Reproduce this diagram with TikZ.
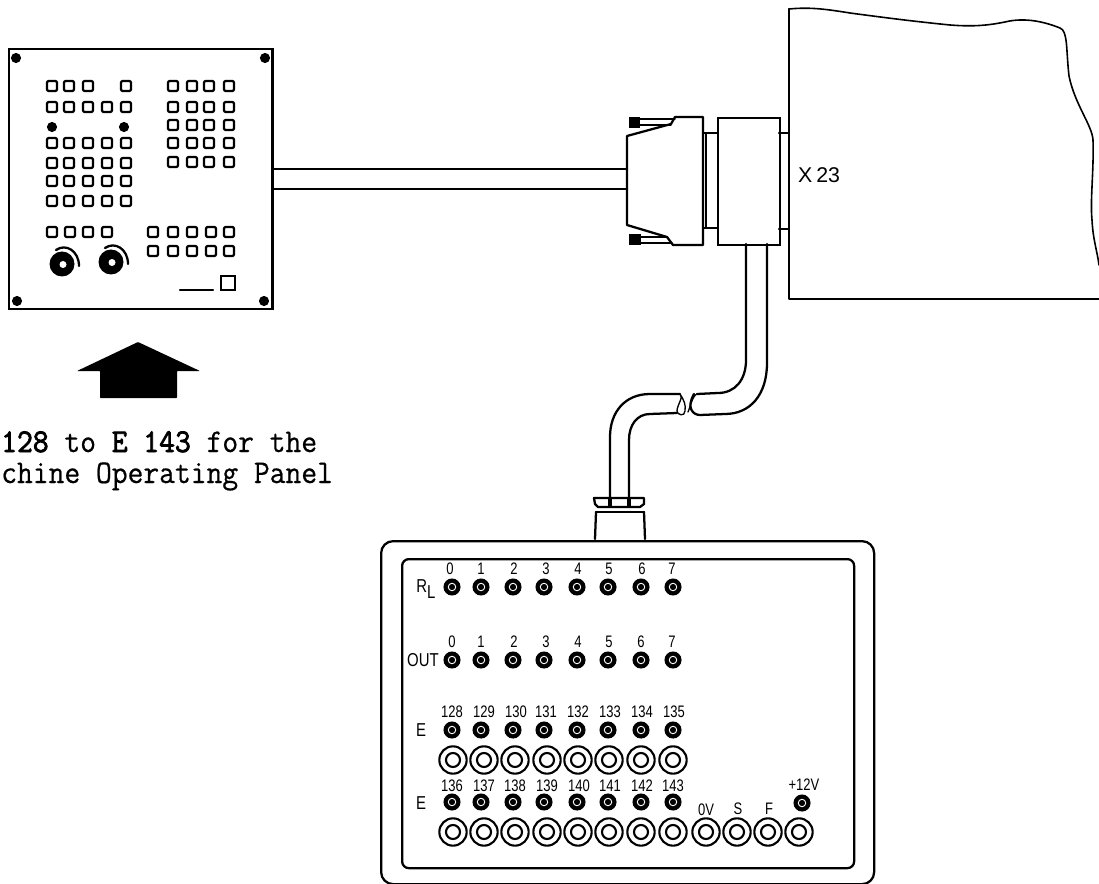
\documentclass[tikz,border=0pt]{standalone}
\usepackage{fontspec}
\setmainfont{Liberation Sans}
\newfontfamily\typefont[FakeBold=0.6]{Latin Modern Mono}
\newfontfamily\typebold[FakeBold=2.4]{Latin Modern Mono}
\tikzset{
  x=0.75pt,y=-0.75pt,
  ink/.style={draw=black,line width=1.7pt,line join=round,line cap=round},
  thinink/.style={draw=black,line width=1pt,line join=round,line cap=round},
  keycap/.style={draw=black,line width=1.7pt,rounded corners=1.5pt,minimum size=7.6pt,inner sep=0pt,fill=white},
  bigjack/.style={draw=black,line width=1.6pt,circle,minimum size=20.5pt,inner sep=0pt,fill=white},
  jackhole/.style={draw=black,line width=1.6pt,circle,minimum size=10.5pt,inner sep=0pt,fill=white},
  smalljack/.style={draw=black,line width=0.8pt,circle,minimum size=12pt,inner sep=0pt,fill=black},
  smallring/.style={draw=white,line width=0.7pt,circle,minimum size=5.6pt,inner sep=0pt,fill=black},
  lab/.style={font=\fontsize{12.5}{14}\selectfont,inner sep=0pt,xscale=0.78,transform shape},
  side/.style={font=\fontsize{14}{16}\selectfont,inner sep=0pt,xscale=0.8,transform shape},
  para/.style={font=\typefont\fontsize{23}{24}\selectfont,inner sep=0pt,anchor=base west,yscale=1.08,transform shape},
  blackdot/.style={circle,fill=black,inner sep=0pt,minimum size=7.6pt},
}
\newcommand{\keyrow}[2]{\foreach \kx in {#2}{\node[keycap] at (\kx,#1) {};}}
\begin{document}
\begin{tikzpicture}
\useasboundingbox (0,0) rectangle (1099,884);
% ---- operating panel
\node[draw=black,line width=1.7pt,minimum width=197.5pt,minimum height=195pt,inner sep=0pt,anchor=north west] (panel) at (8,48) {};
\foreach \px/\py in {16/58,265/58,17/301,264/301}{\node[blackdot] at (\px,\py) {};}
\keyrow{86}{52,69,88,126}
\keyrow{107}{52,69,88,107,126}
\keyrow{143}{52,69,88,107,126}
\keyrow{163}{52,69,88,107,126}
\keyrow{181}{52,69,88,107,126}
\keyrow{201}{52,69,88,107,126}
\node[blackdot] at (52,127) {};
\node[blackdot] at (124,127) {};
\keyrow{86}{173,192,209,229}
\keyrow{107}{173,192,209,229}
\keyrow{125}{173,192,209,229}
\keyrow{143}{173,192,209,229}
\keyrow{162}{173,192,209,229}
\keyrow{232}{52,70,88,107}
\keyrow{232}{153,173,192,211,229}
\keyrow{251}{153,173,192,211,229}
\node[draw=black,line width=1.7pt,minimum size=10.5pt,inner sep=0pt] (bigkey) at (228,283) {};
\draw[ink] (180,290) -- (213,290);
% knobs
\foreach \kx/\ky in {62/264,111/262}{
  \fill[black] (\kx,\ky) circle[radius=12.5];
  \fill[white] (\kx+1,\ky+0.5) circle[radius=3.5];
  \draw[ink] (\kx-6,\ky-14) .. controls (\kx+4,\ky-21) and (\kx+17,\ky-13) .. (\kx+17,\ky+2);
}
% ---- big arrow
\fill[black,rounded corners=0.5pt] (138,342) -- (200,371) -- (177,371) -- (177,398) -- (100,398) -- (100,371) -- (77,371) -- cycle;
\node[para] (t1) at (1,452) {{\typebold 128} to {\typebold E} {\typebold 143} for the};
\node[para] (t2) at (1,483) {chine Operating Panel};
% ---- connector and cable
\coordinate (pr1) at (272,169); \coordinate (pr2) at (272,189);
\coordinate (pl1) at (627,169); \coordinate (pl2) at (627,189);
\draw[ink] (pr1) -- (pl1);
\draw[ink] (pr2) -- (pl2);
\draw[ink] (627,136) -- (671,124) -- (675,117) -- (703,117) -- (703,245) -- (673,245) -- (667,237) -- (627,225) -- cycle;
% thumb screws
\fill[black] (629,117) rectangle (640,128);
\fill[black] (629,234) rectangle (641,245);
\draw[thinink] (640,119) -- (675,119);
\draw[thinink] (640,125) -- (671,125);
\draw[thinink] (641,237) -- (667,237);
\draw[thinink] (641,243) -- (672,243);
% adapter
\node[draw=black,line width=1.7pt,minimum width=46.5pt,minimum height=95.3pt,inner sep=0pt,anchor=north west] (adapter) at (717,117) {};
\draw[ink] (703,133) -- (717,133);
\draw[ink] (703,228) -- (717,228);
\draw[ink] (706,133) -- (706,228);
\draw[ink] (779,133) -- (789,133);
\draw[ink] (779,229) -- (789,229);
% ---- control unit
\draw[ink] (1099,299) -- (789,299) -- (789,9);
\draw[thinink,line width=1.2pt] (789,9) .. controls (810,7) and (825,9) .. (850,13)
  .. controls (880,17) and (910,21) .. (950,25) .. controls (975,27) and (990,25) .. (1005,22)
  .. controls (1025,17) and (1045,22) .. (1060,28) .. controls (1068,31) and (1066,50) .. (1069,76)
  .. controls (1075,105) and (1092,125) .. (1093,140) .. controls (1094,170) and (1090,200) .. (1092,220)
  .. controls (1093,240) and (1097,250) .. (1099,265);
\node[font=\fontsize{16}{18}\selectfont,inner sep=0pt] (x23) at (819,175) {X\kern3pt 23};
% ---- test box cable
\draw[ink] (746,244) -- (746,360) .. controls (746,380) and (735,393) .. (718,393) -- (697,394);
\draw[ink] (767,244) -- (767,363) .. controls (767,395) and (750,414) .. (725,414) -- (700,415) .. controls (693,415) and (686,408) .. (694,394);
\draw[thinink] (697,394) .. controls (692,396) and (690,408) .. (688,412);
\draw[ink] (680,394) -- (650,394) .. controls (625,394) and (610,412) .. (610,437) -- (610,498);
\draw[ink] (677,413) -- (650,414) .. controls (637,414) and (629,425) .. (629,440) -- (629,498);
\draw[thinink] (680,394) .. controls (684,397) and (677,405) .. (677,411) .. controls (677,415) and (685,417) .. (685,411) .. controls (686,405) and (684,400) .. (680,394);
% gland
\draw[ink,fill=white] (594,498) -- (644,498) -- (644,504) -- (640,507) -- (598,507) -- (595,504) -- cycle;
\draw[ink] (596,512) -- (644,512);
\draw[ink] (595,539) -- (596,512);
\draw[ink] (644,512) -- (645,539);
\fill[black] (608,498) rectangle (612,507);
\fill[black] (627,498) rectangle (631,507);
% ---- box
\node[draw=black,line width=1.7pt,rounded corners=9pt,minimum width=369.75pt,minimum height=257.25pt,inner sep=0pt,anchor=north west] (outerbox) at (380,540) {};
\node[draw=black,line width=1.7pt,rounded corners=5pt,minimum width=339pt,minimum height=231.75pt,inner sep=0pt,anchor=north west] (innerbox) at (401,558) {};
% small jacks
\foreach \jy in {587,660,730,802}{
  \foreach \jx in {452,481,513,544,577,608,641,673}{
    \node[smalljack] at (\jx,\jy) {};
    \node[smallring] at (\jx,\jy) {};
  }
}
\node[smalljack] at (802,803) {};
\node[smallring] at (802,803) {};
% big jacks
\foreach \jy/\jlist in {760/{453,484,515,547,578,609,641,673},832/{453,484,515,547,578,609,641,673,706,737,768,799}}{
  \foreach \jx in \jlist {
    \node[bigjack] at (\jx,\jy) {};
    \node[jackhole] at (\jx,\jy) {};
  }
}
% labels
\foreach \lx/\ltxt in {450/0,481/1,514/2,546/3,578/4,609/5,642/6,672/7}{
  \node[lab] at (\lx,569) {\ltxt};
}
\foreach \lx/\ltxt in {452/0,481/1,514/2,546/3,578/4,609/5,641/6,672/7}{
  \node[lab] at (\lx,642) {\ltxt};
}
\foreach \lx/\ltxt in {452/128,484/129,516/130,546/131,578/132,610/133,642/134,674/135}{
  \node[lab] at (\lx,712) {\ltxt};
}
\foreach \lx/\ltxt in {452/136,484/137,515/138,547/139,579/140,610/141,642/142,673/143}{
  \node[lab] at (\lx,786) {\ltxt};
}
\node[side] (rl) at (426,589) {R\raisebox{-5pt}{\fontsize{14}{14}\selectfont L}};
\node[side] (out) at (423,660) {OUT};
\node[side] (e1) at (421,730) {E};
\node[side] (e2) at (421,803) {E};
\node[lab] (zv) at (706,810) {0V};
\node[lab] (s) at (738,809) {S};
\node[lab] (f) at (769,809) {F};
\node[lab] (pv) at (804,785) {+12V};
\end{tikzpicture}
\end{document}
